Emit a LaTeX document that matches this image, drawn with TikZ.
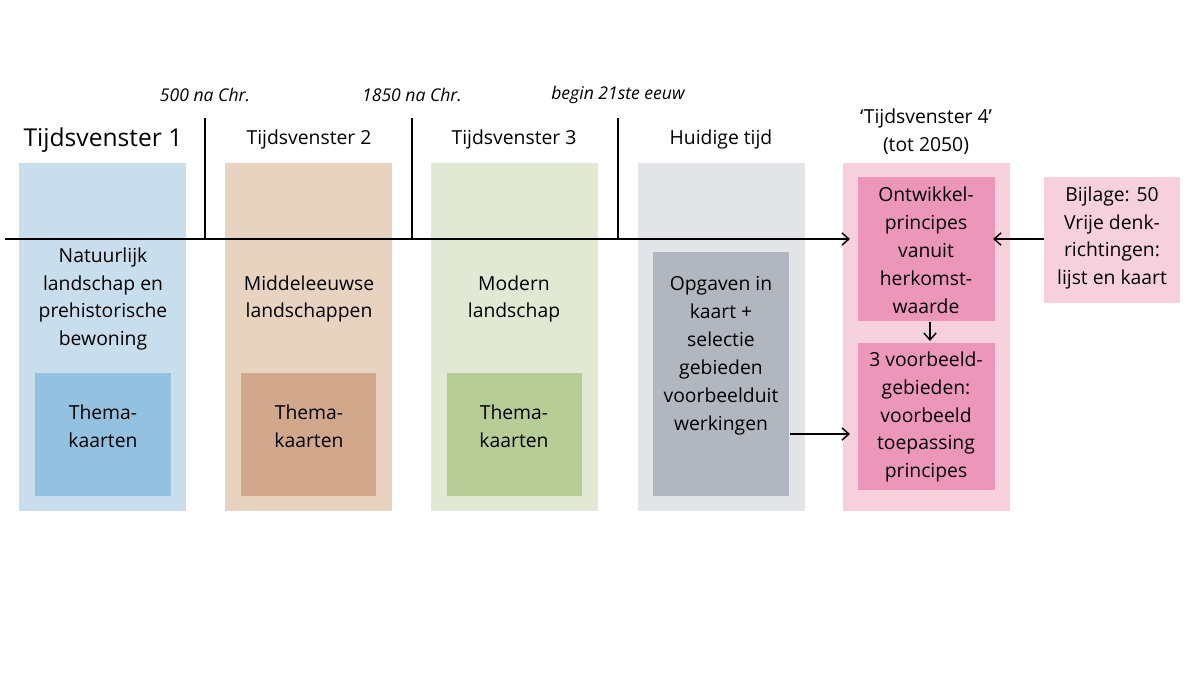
\documentclass[tikz,border=0pt]{standalone}
\usepackage{fontspec}
\setmainfont{Open Sans}
\usetikzlibrary{arrows.meta,positioning}
\definecolor{blueBg}{RGB}{200,222,237}
\definecolor{blueIn}{RGB}{146,194,224}
\definecolor{brownBg}{RGB}{232,210,192}
\definecolor{brownIn}{RGB}{210,168,140}
\definecolor{greenBg}{RGB}{225,233,212}
\definecolor{greenIn}{RGB}{184,205,150}
\definecolor{greyBg}{RGB}{227,228,232}
\definecolor{greyIn}{RGB}{178,182,190}
\definecolor{pinkBg}{RGB}{247,208,222}
\definecolor{pinkIn}{RGB}{236,150,186}
\begin{document}
\begin{tikzpicture}[x=0.02cm,y=-0.02cm,
    txt/.style={align=center,font=\fontsize{11}{15.9}\selectfont,inner sep=0pt},
    era/.style={font=\fontsize{10}{12}\selectfont\itshape,inner sep=0pt},
    arr/.style={-{Straight Barb[length=4pt,width=7pt]},line width=0.8pt}]
\useasboundingbox (0,0) rectangle (1200,674);
% columns
\fill[blueBg] (19,163) rectangle (186,511);
\fill[brownBg] (225,163) rectangle (392,511);
\fill[greenBg] (431,163) rectangle (598,511);
\fill[greyBg] (638,163) rectangle (805,511);
\fill[pinkBg] (843,163) rectangle (1010,511);
\fill[blueIn] (35,373) rectangle (171,496);
\fill[brownIn] (241,373) rectangle (376,496);
\fill[greenIn] (447,373) rectangle (582,496);
\fill[greyIn] (653,252) rectangle (789,496);
\fill[pinkIn] (858,177) rectangle (995,321);
\fill[pinkIn] (858,343) rectangle (995,490);
\fill[pinkBg] (1044,177) rectangle (1180,303);
% timeline
\coordinate (tl0) at (5,239);
\coordinate (tl1) at (850,239);
\draw[arr] (tl0) -- (tl1);
\foreach \x/\lab in {205/500 na Chr.,412/1850 na Chr.,618/begin 21ste eeuw}{
  \draw[line width=0.8pt] (\x,118) -- (\x,239);
  \node[era] at (\x,95) {\lab};
}
% headers
\node[txt,font=\fontsize{14}{16}\selectfont] (h1) at (103,140) {Tijdsvenster 1};
\node[txt] (h2) at (309,139) {Tijdsvenster 2};
\node[txt] (h3) at (514,139) {Tijdsvenster 3};
\node[txt] (h4) at (721,139) {Huidige tijd};
\node[txt] (h5) at (926,132) {‘Tijdsvenster 4’\\(tot 2050)};
% texts
\node[txt] (t1) at (103,299) {Natuurlijk\\landschap en\\prehistorische\\bewoning};
\node[txt] (t2) at (309,299) {Middeleeuwse\\landschappen};
\node[txt] (t3) at (514,299) {Modern\\landschap};
\node[txt] (k1) at (103,426) {Thema-\\kaarten};
\node[txt] (k2) at (309,426) {Thema-\\kaarten};
\node[txt] (k3) at (514,426) {Thema-\\kaarten};
\node[txt] (opg) at (721,356) {Opgaven in\\kaart +\\selectie\\gebieden\\voorbeelduit\\werkingen};
\node[txt] (ont) at (926,250) {Ontwikkel-\\principes\\vanuit\\herkomst-\\waarde};
\node[txt] (vb) at (926,417) {3 voorbeeld-\\gebieden:\\voorbeeld\\toepassing\\principes};
\node[txt] (bij) at (1112,238) {Bijlage: 50\\Vrije denk-\\richtingen:\\lijst en kaart};
% connectors
\coordinate (bijL) at (1044,239);
\coordinate (ontR) at (993,239);
\draw[arr] (bijL) -- (ontR);
\coordinate (ontB) at (930,322);
\coordinate (vbT) at (930,341);
\draw[arr] (ontB) -- (vbT);
\coordinate (opgR) at (790,434);
\coordinate (vbL) at (850,434);
\draw[arr] (opgR) -- (vbL);
\end{tikzpicture}
\end{document}
